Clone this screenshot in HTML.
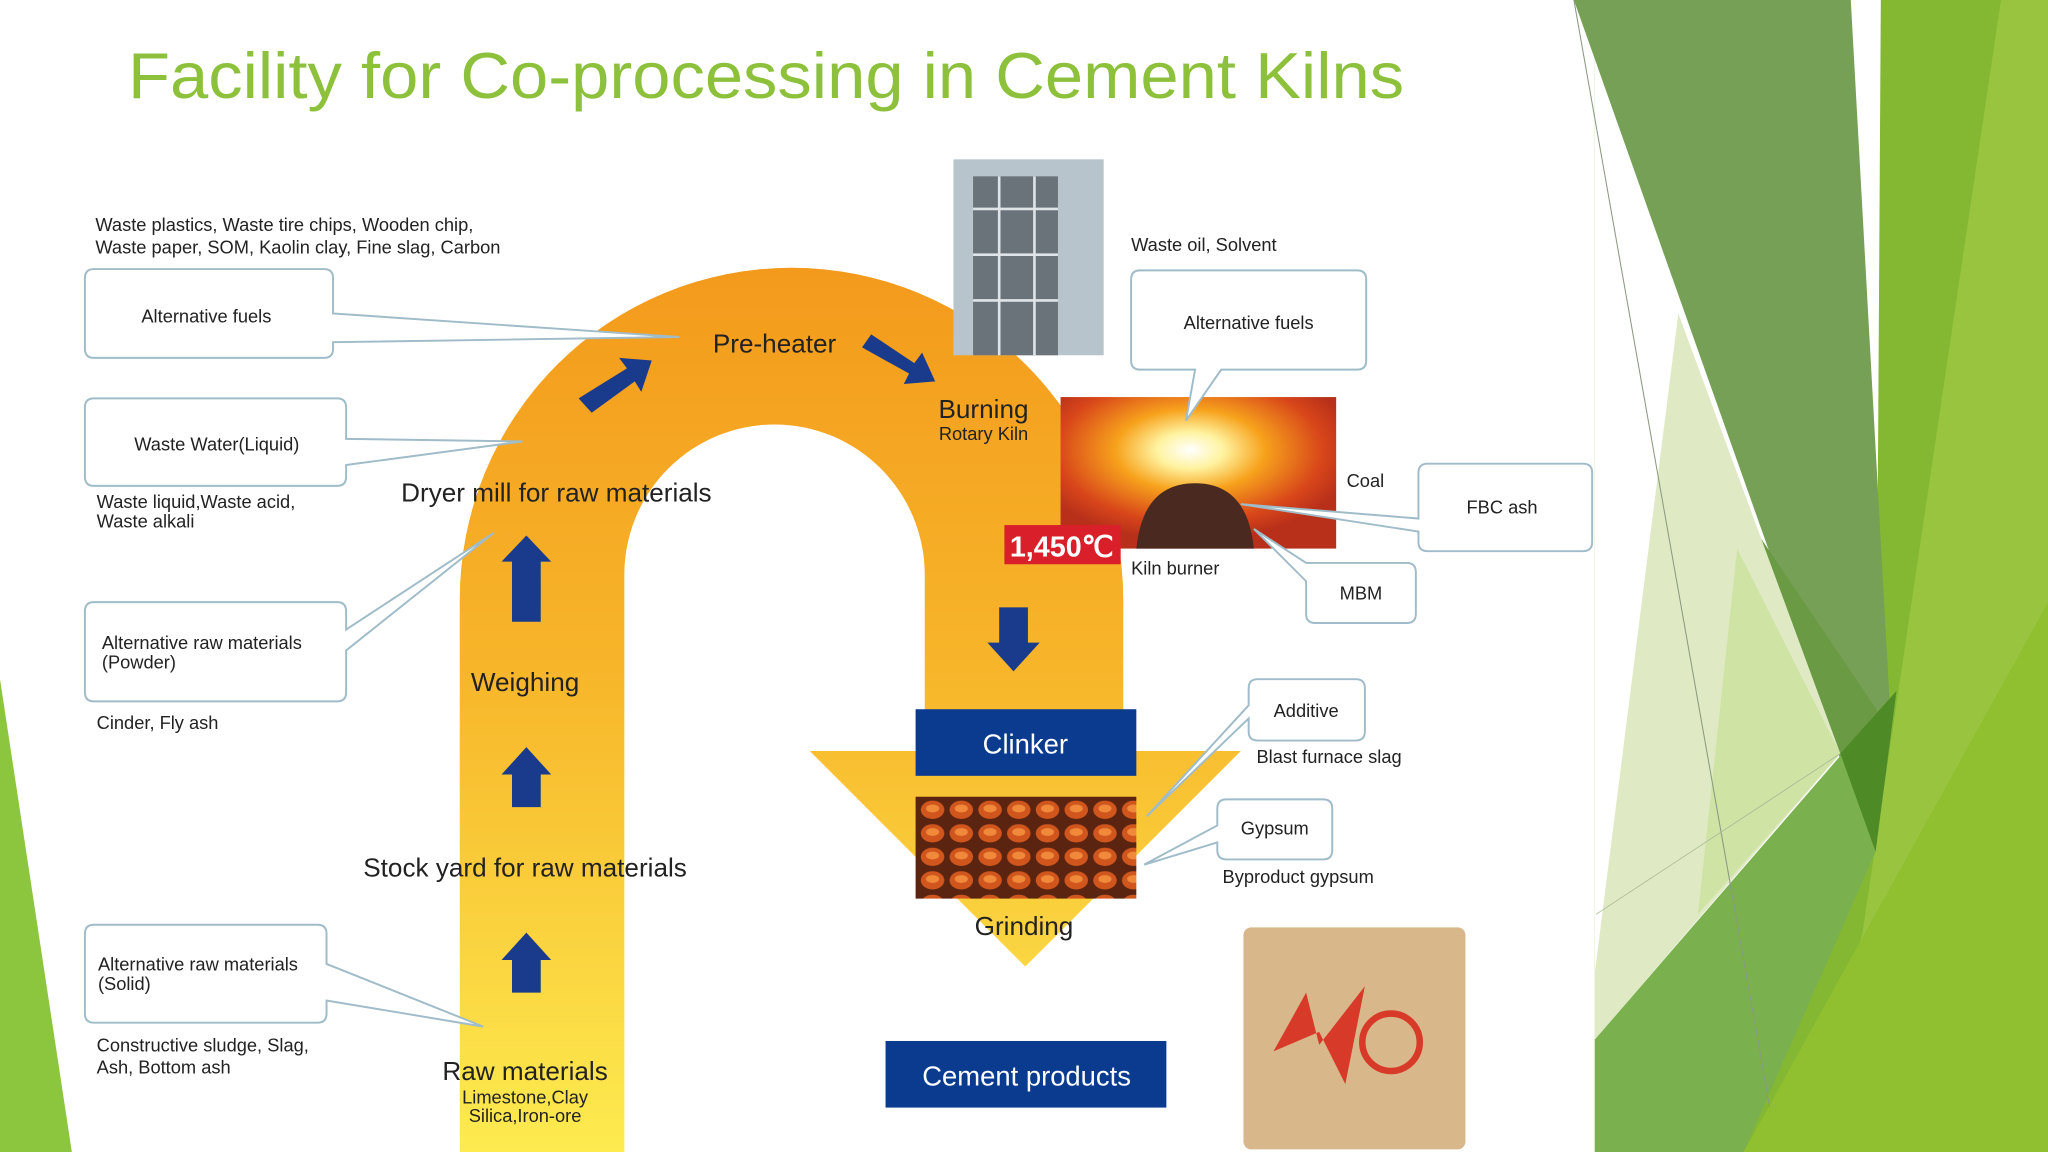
<!DOCTYPE html>
<html><head><meta charset="utf-8"><style>
html,body{margin:0;padding:0;background:#fff;}
svg{display:block;}
text{font-family:"Liberation Sans",sans-serif;}
</style></head><body>
<svg width="2048" height="1152" viewBox="0 0 1568 882" xmlns="http://www.w3.org/2000/svg">
<defs>
<linearGradient id="arch" x1="0" y1="0" x2="0" y2="1">
<stop offset="0" stop-color="#f39a1c"/><stop offset="0.45" stop-color="#f7b52a"/><stop offset="1" stop-color="#fdeb50"/>
</linearGradient>
<radialGradient id="kiln" cx="0.47" cy="0.35" r="0.6">
<stop offset="0" stop-color="#ffffff"/><stop offset="0.2" stop-color="#fff3a0"/><stop offset="0.45" stop-color="#f7a21c"/><stop offset="0.8" stop-color="#d8461a"/><stop offset="1" stop-color="#b8301a"/>
</radialGradient>
<pattern id="clink" width="22" height="18" patternUnits="userSpaceOnUse">
<rect width="22" height="18" fill="#5a2410"/>
<ellipse cx="10" cy="8" rx="9" ry="7" fill="#d0561e"/>
<ellipse cx="10" cy="7" rx="5" ry="3" fill="#f08a3a"/>
</pattern>
</defs>
<rect width="1568" height="882" fill="#fff"/>
<!-- right decoration -->
<polygon points="1221,0 1568,0 1568,882 1221,882" fill="#84b832"/>
<polygon points="1221,0 1440,0 1436,652 1221,882" fill="#fff"/>
<polygon points="1205,0 1417,0 1448,560 1436,652" fill="#76a055"/>
<polygon points="1340,400 1448,560 1436,652" fill="#6a9a44"/>
<polygon points="1532,0 1568,0 1568,882 1380,882 1426,714" fill="#98c440"/>
<polygon points="1285,240 1409,577 1221,796 1221,745" fill="#dfeac4"/>
<polygon points="1330,420 1409,577 1300,700" fill="#cfe3a4"/>
<polygon points="1221,796 1452,529 1436,652 1335,882 1221,882" fill="#7ab04e"/>
<polygon points="1409,577 1452,529 1436,652" fill="#4e8a26"/>
<polygon points="1335,882 1568,461 1568,882" fill="#90c030"/>
<line x1="1205" y1="0" x2="1355" y2="848" stroke="#8a9a80" stroke-width="0.8"/>
<line x1="1222" y1="700" x2="1409" y2="577" stroke="#a8b898" stroke-width="0.6"/>
<!-- left bottom -->
<polygon points="0,520 55,882 0,882" fill="#8cc63f"/>
<!-- title -->
<text x="98" y="75" font-size="50" fill="#8dc13c" textLength="977" lengthAdjust="spacingAndGlyphs" font-family="DejaVu Sans, sans-serif">Facility for Co-processing in Cement Kilns</text>
<!-- arch -->
<path d="M352,882 L352,459 A254,254 0 0 1 860,459 L860,575 L950,575 L785,740 L620,575 L708,575 L708,440 A115,115 0 0 0 478,440 L478,882 Z" fill="url(#arch)"/>
<!-- tower photo -->
<rect x="730" y="122" width="115" height="150" fill="#b8c4cc"/>
<rect x="745" y="135" width="65" height="137" fill="#6b737a"/>
<g stroke="#dfe4e8" stroke-width="2"><line x1="745" y1="160" x2="810" y2="160"/><line x1="745" y1="195" x2="810" y2="195"/><line x1="745" y1="230" x2="810" y2="230"/><line x1="765" y1="135" x2="765" y2="272"/><line x1="792" y1="135" x2="792" y2="272"/></g>
<!-- kiln photo -->
<rect x="812" y="304" width="211" height="116" fill="url(#kiln)"/>
<path d="M870,420 Q875,370 915,370 Q955,370 960,420 Z" fill="#4a2a20"/>
<rect x="769" y="402" width="89" height="30" fill="#d9202a"/>
<text x="813" y="426" font-size="22" font-weight="bold" fill="#fff" text-anchor="middle">1,450℃</text>
<!-- arrows -->
<g fill="#1a3a8c">
<polygon points="392,448 392,430 384,430 403,410 422,430 414,430 414,476 392,476"/>
<polygon points="392,593 384,593 403,572 422,593 414,593 414,618 392,618"/>
<polygon points="392,735 384,735 403,714 422,735 414,735 414,760 392,760"/>
<polygon points="765,465 787,465 787,492 796,492 776,514 756,492 765,492"/>
<polygon points="443,305 480,282 474,274 499,276 491,300 486,292 453,316"/>
<polygon points="667,256 700,278 706,270 716,292 692,294 696,286 660,266"/>
</g>
<!-- clinker & grinding -->
<rect x="701" y="543" width="169" height="51" fill="#0b3b8f"/>
<text x="785" y="577" font-size="21" fill="#fff" text-anchor="middle">Clinker</text>
<rect x="701" y="610" width="169" height="78" fill="url(#clink)"/>
<text x="784" y="716" font-size="20" fill="#222" text-anchor="middle">Grinding</text>
<rect x="678" y="797" width="215" height="51" fill="#0b3b8f"/>
<text x="786" y="831" font-size="21" fill="#fff" text-anchor="middle">Cement  products</text>
<!-- bag -->
<rect x="952" y="710" width="170" height="170" rx="6" fill="#d8b88a"/>
<polygon points="975,805 1000,760 1010,800 1045,755 1030,830 1010,790" fill="#d83a2a"/>
<circle cx="1065" cy="798" r="22" fill="none" stroke="#d83a2a" stroke-width="5"/>
<!-- labels on arch -->
<text x="593" y="270" font-size="20" fill="#222" text-anchor="middle">Pre-heater</text>
<text x="753" y="320" font-size="20" fill="#222" text-anchor="middle">Burning</text>
<text x="753" y="337" font-size="14" fill="#222" text-anchor="middle">Rotary Kiln</text>
<text x="426" y="384" font-size="20" fill="#222" text-anchor="middle">Dryer mill for raw materials</text>
<text x="402" y="529" font-size="20" fill="#222" text-anchor="middle">Weighing</text>
<text x="402" y="671" font-size="20" fill="#222" text-anchor="middle">Stock yard for raw materials</text>
<text x="402" y="827" font-size="20" fill="#222" text-anchor="middle">Raw materials</text>
<text x="402" y="845" font-size="14" fill="#222" text-anchor="middle">Limestone,Clay</text>
<text x="402" y="859" font-size="14" fill="#222" text-anchor="middle">Silica,Iron-ore</text>
<!-- callouts -->
<g fill="#fff" stroke="#9fbcc8" stroke-width="1.5">
<path d="M72,206 H248 Q255,206 255,213 V240 L520,258 L255,262 V267 Q255,274 248,274 H72 Q65,274 65,267 V213 Q65,206 72,206 Z"/>
<path d="M72,305 H258 Q265,305 265,312 V336 L400,338 L265,356 V365 Q265,372 258,372 H72 Q65,372 65,365 V312 Q65,305 72,305 Z"/>
<path d="M72,461 H258 Q265,461 265,468 V482 L378,408 L265,498 V530 Q265,537 258,537 H72 Q65,537 65,530 V468 Q65,461 72,461 Z"/>
<path d="M72,708 H243 Q250,708 250,715 V738 L370,786 L250,766 V776 Q250,783 243,783 H72 Q65,783 65,776 V715 Q65,708 72,708 Z"/>
<path d="M873,207 H1039 Q1046,207 1046,214 V276 Q1046,283 1039,283 H935 L908,322 L915,283 H873 Q866,283 866,276 V214 Q866,207 873,207 Z"/>
<path d="M1093,355 H1212 Q1219,355 1219,362 V415 Q1219,422 1212,422 H1093 Q1086,422 1086,415 V407 L950,386 L1086,397 V362 Q1086,355 1093,355 Z"/>
<path d="M1007,431 H1077 Q1084,431 1084,438 V470 Q1084,477 1077,477 H1007 Q1000,477 1000,470 V445 L960,405 L1000,431 Z"/>
<path d="M963,520 H1038 Q1045,520 1045,527 V560 Q1045,567 1038,567 H963 Q956,567 956,560 V550 L878,625 L956,540 V527 Q956,520 963,520 Z"/>
<path d="M939,612 H1013 Q1020,612 1020,619 V651 Q1020,658 1013,658 H939 Q932,658 932,651 V645 L876,662 L932,632 V619 Q932,612 939,612 Z"/>
</g>
<g font-size="14" fill="#222">
<text x="158" y="247" text-anchor="middle">Alternative fuels</text>
<text x="166" y="345" text-anchor="middle">Waste Water(Liquid)</text>
<text x="78" y="497">Alternative raw materials</text>
<text x="78" y="512">(Powder)</text>
<text x="75" y="743">Alternative raw materials</text>
<text x="75" y="758">(Solid)</text>
<text x="956" y="252" text-anchor="middle">Alternative fuels</text>
<text x="1150" y="393" text-anchor="middle">FBC ash</text>
<text x="1042" y="459" text-anchor="middle">MBM</text>
<text x="1000" y="549" text-anchor="middle">Additive</text>
<text x="976" y="639" text-anchor="middle">Gypsum</text>
<text x="73" y="177">Waste plastics, Waste tire chips, Wooden chip,</text>
<text x="73" y="194">Waste paper, SOM, Kaolin clay, Fine slag, Carbon</text>
<text x="74" y="389">Waste liquid,Waste acid,</text>
<text x="74" y="404">Waste alkali</text>
<text x="74" y="558">Cinder, Fly ash</text>
<text x="74" y="805">Constructive sludge, Slag,</text>
<text x="74" y="822">Ash, Bottom ash</text>
<text x="866" y="192">Waste oil, Solvent</text>
<text x="1031" y="373">Coal</text>
<text x="866" y="440">Kiln burner</text>
<text x="962" y="584">Blast furnace slag</text>
<text x="936" y="676">Byproduct gypsum</text>
</g>
</svg>
</body></html>
